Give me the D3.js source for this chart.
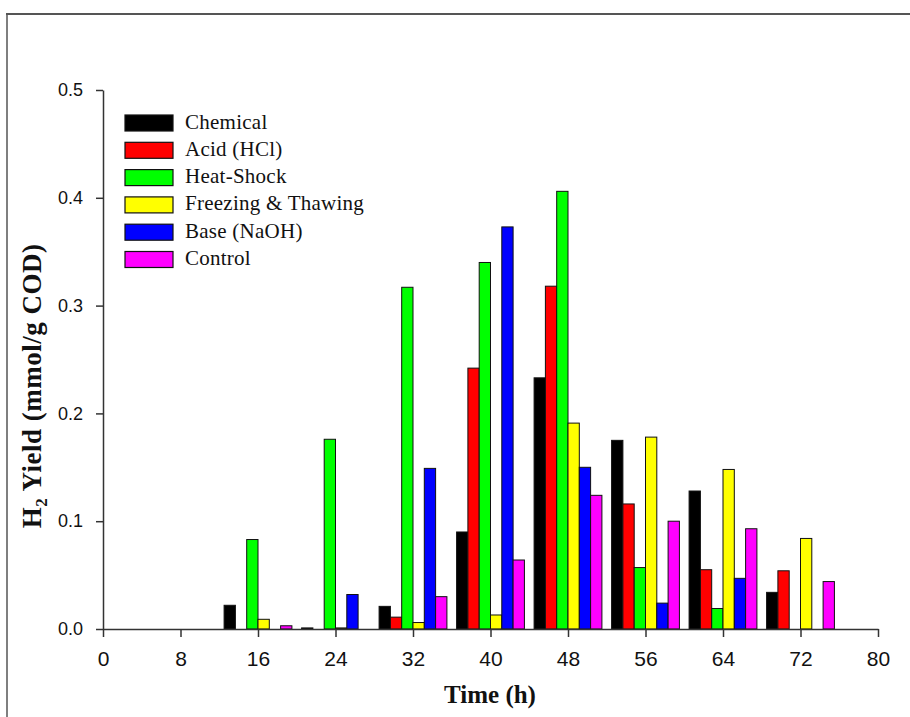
<!DOCTYPE html>
<html><head><meta charset="utf-8">
<script src="https://cdn.jsdelivr.net/npm/d3@7"></script>
<style>body{margin:0;background:#fff}svg{display:block}</style>
</head><body>
<svg id="chart" width="910" height="717"></svg>
<script>
const times = [16, 24, 32, 40, 48, 56, 64, 72];
const seriesNames = ["Chemical", "Acid (HCl)", "Heat-Shock", "Freezing & Thawing", "Base (NaOH)", "Control"];
const seriesColors = ["#000000", "#ff0000", "#00ff00", "#ffff00", "#0000ff", "#ff00ff"];
const chemical = [0.022, 0.001, 0.021, 0.090, 0.233, 0.175, 0.128, 0.034];
const acid     = [0.000, 0.000, 0.011, 0.242, 0.318, 0.116, 0.055, 0.054];
const heat     = [0.083, 0.176, 0.317, 0.340, 0.406, 0.057, 0.019, 0.000];
const freeze   = [0.009, 0.001, 0.006, 0.013, 0.191, 0.178, 0.148, 0.084];
const base     = [0.000, 0.032, 0.149, 0.373, 0.150, 0.024, 0.047, 0.000];
const control  = [0.003, 0.000, 0.030, 0.064, 0.124, 0.100, 0.093, 0.044];
const xTicks = [0, 8, 16, 24, 32, 40, 48, 56, 64, 72, 80];
const yTicks = [0.0, 0.1, 0.2, 0.3, 0.4, 0.5];
const seriesValues = [chemical, acid, heat, freeze, base, control];

const svg = d3.select("#chart");
const x = d3.scaleLinear().domain([0, 80]).range([103, 878]);
const y = d3.scaleLinear().domain([0, 0.5]).range([629, 90]);

// frame
svg.append("line").attr("x1", 7).attr("x2", 7).attr("y1", 14).attr("y2", 717).attr("stroke", "#555").attr("stroke-width", 1.5);
svg.append("line").attr("x1", 6).attr("x2", 910).attr("y1", 14).attr("y2", 14).attr("stroke", "#555").attr("stroke-width", 2);

// bars
const groupWidth = 7, barUnits = groupWidth / 6;
const bars = [];
seriesValues.forEach((vals, si) => vals.forEach((v, ti) => {
  if (v > 0) bars.push({si, t: times[ti], v});
}));
svg.append("g").selectAll("rect").data(bars).join("rect")
  .attr("x", d => x(d.t - groupWidth / 2 + d.si * barUnits))
  .attr("width", x(barUnits) - x(0))
  .attr("y", d => y(d.v))
  .attr("height", d => y(0) - y(d.v))
  .attr("fill", d => seriesColors[d.si])
  .attr("stroke", "#111").attr("stroke-width", 1);

// axes
const xAxis = svg.append("g").attr("transform", `translate(0,${y(0)})`)
  .call(d3.axisBottom(x).tickValues(xTicks).tickSize(8).tickPadding(14).tickSizeOuter(0));
const yAxis = svg.append("g").attr("transform", `translate(${x(0)},0)`)
  .call(d3.axisLeft(y).tickValues(yTicks).tickFormat(d3.format(".1f")).tickSize(7).tickPadding(13).tickSizeOuter(0));
[xAxis, yAxis].forEach(a => {
  a.select(".domain").attr("stroke", "#333").attr("stroke-width", 1.5);
  a.selectAll(".tick line").attr("stroke", "#333").attr("stroke-width", 1.5);
  a.selectAll("text").attr("fill", "#111").attr("font-family", "Liberation Sans, Arial, sans-serif");
});
xAxis.selectAll("text").attr("font-size", 21);
yAxis.selectAll("text").attr("font-size", 18);

// axis titles
svg.append("text").attr("x", 490).attr("y", 703).attr("text-anchor", "middle")
  .attr("font-family", "Liberation Serif, Times New Roman, serif").attr("font-weight", "bold")
  .attr("font-size", 25).attr("fill", "#111").text("Time (h)");
const yt = svg.append("text").attr("transform", "translate(41,386) rotate(-90)").attr("text-anchor", "middle")
  .attr("font-family", "Liberation Serif, Times New Roman, serif").attr("font-weight", "bold")
  .attr("font-size", 27).attr("letter-spacing", 0.5).attr("fill", "#111");
yt.append("tspan").text("H");
yt.append("tspan").attr("font-size", 17).attr("dy", 6).text("2");
yt.append("tspan").attr("dy", -6).text(" Yield (mmol/g COD)");

// legend
const leg = svg.append("g").selectAll("g").data(seriesNames).join("g")
  .attr("transform", (d, i) => `translate(125,${115 + i * 27.3})`);
leg.append("rect").attr("width", 48).attr("height", 16)
  .attr("fill", (d, i) => seriesColors[i]).attr("stroke", "#111").attr("stroke-width", 1.2);
leg.append("text").attr("x", 60).attr("y", 13.5)
  .attr("font-family", "Liberation Serif, Times New Roman, serif").attr("font-size", 21)
  .attr("letter-spacing", 0.25).attr("fill", "#111").text(d => d);
</script>
</body></html>
